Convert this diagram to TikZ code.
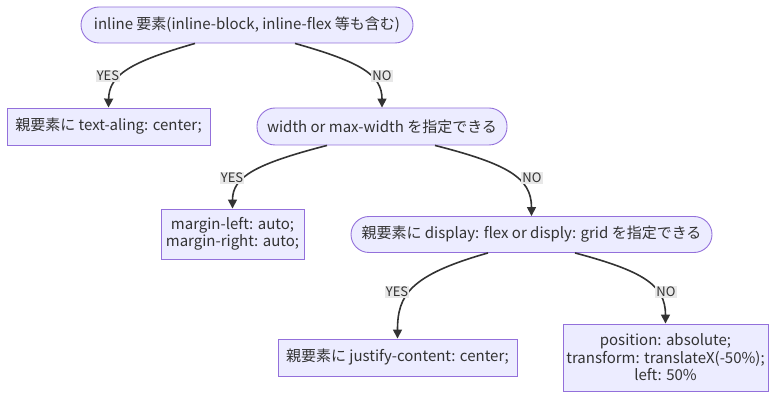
\documentclass[tikz,border=0pt]{standalone}
\usepackage{fontspec}
\setmainfont{Noto Sans CJK JP}
\usetikzlibrary{arrows.meta,calc}
\definecolor{nodefill}{HTML}{ECECFF}
\definecolor{nodeborder}{HTML}{9370DB}
\definecolor{linecol}{HTML}{333333}
\definecolor{lblbg}{HTML}{E8E8E8}
\tikzset{
  base/.style={draw=nodeborder, fill=nodefill, line width=0.9pt, text=linecol,
    font=\fontsize{15}{17.5}\selectfont, align=center, inner sep=0pt},
  stadium/.style={base, rounded corners=18pt},
  box/.style={base},
  edge/.style={draw=linecol, line width=1.6pt, -{Triangle[length=9pt,width=9pt]}},
  lbl/.style={fill=lblbg, text=linecol, font=\fontsize{13}{15}\selectfont, inner sep=1pt}
}
\begin{document}
\begin{tikzpicture}[x=1pt,y=-1pt]
\useasboundingbox (0,0) rectangle (784,403);
\node[stadium, minimum width=332pt, minimum height=36pt] (n1) at (247,25) {inline 要素(inline-block, inline-flex 等も含む)};
\node[box, minimum width=203pt, minimum height=37pt] (n2) at (108.5,126.5) {親要素に text-aling: center;};
\node[stadium, minimum width=250pt, minimum height=37pt] (n3) at (382,126.5) {width or max-width を指定できる};
\node[box, minimum width=143pt, minimum height=50pt] (n4) at (232.5,234) {margin-left: auto;\\margin-right: auto;};
\node[stadium, minimum width=361pt, minimum height=36pt] (n5) at (531.5,234.5) {親要素に display: flex or disply: grid を指定できる};
\node[box, minimum width=239pt, minimum height=37pt] (n6) at (397.5,357.5) {親要素に justify-content: center;};
\node[box, minimum width=205pt, minimum height=67pt] (n7) at (665.5,357.5) {position: absolute;\\transform: translateX(-50\%);\\left: 50\%};

\coordinate (s12) at ([xshift=-52pt]n1.south);
\coordinate (s13) at ([xshift=48pt]n1.south);
\coordinate (s34) at ([xshift=-55pt]n3.south);
\coordinate (s35) at ([xshift=53pt]n3.south);
\coordinate (s56) at ([xshift=-43.5pt]n5.south);
\coordinate (s57) at ([xshift=43.5pt]n5.south);

\draw[edge] (s12) .. controls (130,62) and (109,75) .. (n2.north);
\draw[edge] (s13) .. controls (361,62) and (382,75) .. (n3.north);
\draw[edge] (s34) .. controls (255,164) and (232.5,177) .. (n4.north);
\draw[edge] (s35) .. controls (508,164) and (531.5,178) .. (n5.north);
\draw[edge] (s56) .. controls (410,275) and (397.5,295) .. (n6.north);
\draw[edge] (s57) .. controls (643,271) and (665.5,285) .. (n7.north);

\node[lbl] (l12) at (108,76) {YES};
\node[lbl] (l13) at (382,76) {NO};
\node[lbl] (l34) at (232,178) {YES};
\node[lbl] (l35) at (532,178) {NO};
\node[lbl] (l56) at (397,292) {YES};
\node[lbl] (l57) at (666,292) {NO};
\end{tikzpicture}
\end{document}
